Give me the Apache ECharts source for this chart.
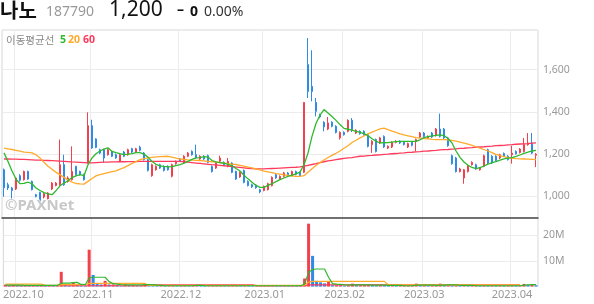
<!DOCTYPE html>
<html>
<head>
<meta charset="utf-8">
<script src="https://cdn.jsdelivr.net/npm/echarts@6/dist/echarts.min.js"></script>
<style>
html,body{margin:0;padding:0;background:#fff;}
#chart{width:594px;height:304px;}
</style>
</head>
<body>
<div id="chart"></div>
<script>
// ---- data ----
const dates = [
'2022.09.28','2022.09.29','2022.09.30',
'2022.10.04','2022.10.05','2022.10.06','2022.10.07','2022.10.11','2022.10.12','2022.10.13','2022.10.14','2022.10.17','2022.10.18','2022.10.19','2022.10.20','2022.10.21','2022.10.24','2022.10.25','2022.10.26','2022.10.27','2022.10.28','2022.10.31',
'2022.11.01','2022.11.02','2022.11.03','2022.11.04','2022.11.07','2022.11.08','2022.11.09','2022.11.10','2022.11.11','2022.11.14','2022.11.15','2022.11.16','2022.11.17','2022.11.18','2022.11.21','2022.11.22','2022.11.23','2022.11.24','2022.11.25','2022.11.28','2022.11.29','2022.11.30',
'2022.12.01','2022.12.02','2022.12.05','2022.12.06','2022.12.07','2022.12.08','2022.12.09','2022.12.12','2022.12.13','2022.12.14','2022.12.15','2022.12.16','2022.12.19','2022.12.20','2022.12.21','2022.12.22','2022.12.23','2022.12.26','2022.12.27','2022.12.28','2022.12.29',
'2023.01.02','2023.01.03','2023.01.04','2023.01.05','2023.01.06','2023.01.09','2023.01.10','2023.01.11','2023.01.12','2023.01.13','2023.01.16','2023.01.17','2023.01.18','2023.01.19','2023.01.20','2023.01.25','2023.01.26','2023.01.27','2023.01.30','2023.01.31',
'2023.02.01','2023.02.02','2023.02.03','2023.02.06','2023.02.07','2023.02.08','2023.02.09','2023.02.10','2023.02.13','2023.02.14','2023.02.15','2023.02.16','2023.02.17','2023.02.20','2023.02.21','2023.02.22','2023.02.23','2023.02.24','2023.02.27','2023.02.28',
'2023.03.02','2023.03.03','2023.03.06','2023.03.07','2023.03.08','2023.03.09','2023.03.10','2023.03.13','2023.03.14','2023.03.15','2023.03.16','2023.03.17','2023.03.20','2023.03.21','2023.03.22','2023.03.23','2023.03.24','2023.03.27','2023.03.28','2023.03.29','2023.03.30','2023.03.31',
'2023.04.03','2023.04.04','2023.04.05','2023.04.06','2023.04.07','2023.04.10','2023.04.11'
];
const opens = [1126,1055,1040,1035,1098,1079,1118,1071,1008,1019,997,988,1035,1051,1055,1150,1071,1079,1142,1118,1103,1158,1335,1272,1221,1221,1197,1210,1197,1166,1210,1197,1226,1210,1233,1205,1174,1098,1126,1150,1142,1142,1095,1155,1177,1158,1190,1213,1197,1177,1190,1193,1142,1134,1166,1161,1142,1158,1118,1092,1123,1071,1055,1054,1032,1028,1032,1051,1103,1082,1095,1111,1098,1118,1113,1114,1624,1521,1445,1387,1351,1319,1351,1332,1277,1303,1308,1360,1300,1308,1308,1292,1245,1269,1253,1284,1229,1234,1256,1261,1256,1234,1256,1261,1281,1300,1277,1300,1288,1319,1319,1277,1193,1182,1118,1087,1118,1150,1150,1126,1142,1221,1190,1190,1182,1203,1190,1197,1213,1208,1213,1245,1253,1195];
const closes = [1041,1040,1028,1087,1076,1118,1082,1032,1000,976,1013,1016,1063,1063,1150,1055,1087,1118,1103,1103,1079,1335,1229,1232,1205,1182,1221,1190,1182,1197,1190,1221,1210,1226,1218,1174,1123,1150,1142,1134,1123,1126,1150,1166,1166,1190,1205,1197,1183,1190,1177,1161,1118,1161,1182,1150,1166,1114,1082,1114,1066,1051,1045,1041,1021,1047,1060,1090,1087,1095,1111,1098,1118,1105,1098,1445,1497,1497,1403,1376,1329,1348,1332,1303,1303,1292,1360,1316,1313,1297,1292,1237,1261,1213,1277,1234,1237,1256,1261,1253,1246,1250,1242,1269,1300,1284,1284,1281,1319,1284,1277,1240,1155,1118,1130,1126,1145,1161,1130,1134,1193,1158,1158,1170,1197,1190,1174,1205,1202,1224,1245,1253,1205,1200];
const lows = [998,1030,985,1030,1070,1075,1078,1028,995,951,990,985,1030,1048,1050,1050,1065,1075,1098,1098,1075,1155,1225,1228,1200,1161,1193,1186,1178,1162,1186,1193,1205,1205,1213,1170,1118,1093,1122,1130,1118,1122,1090,1150,1162,1153,1186,1193,1178,1173,1173,1157,1113,1130,1162,1146,1138,1110,1078,1088,1062,1047,1040,1036,1015,1024,1028,1047,1083,1078,1090,1094,1094,1100,1094,1110,1466,1450,1379,1370,1308,1314,1327,1298,1269,1288,1303,1305,1295,1292,1288,1232,1206,1208,1248,1229,1224,1229,1251,1248,1241,1229,1237,1213,1276,1279,1272,1276,1283,1279,1272,1235,1150,1113,1113,1060,1113,1146,1126,1122,1138,1153,1153,1166,1177,1186,1170,1155,1198,1203,1208,1240,1200,1139];
const highs = [1132,1065,1045,1092,1105,1122,1122,1075,1012,1022,1020,1020,1068,1068,1269,1197,1095,1237,1145,1122,1108,1398,1363,1275,1226,1226,1226,1215,1203,1200,1215,1226,1230,1230,1240,1210,1178,1155,1147,1155,1147,1147,1155,1170,1182,1195,1210,1218,1245,1195,1195,1198,1147,1166,1193,1166,1182,1162,1122,1118,1127,1076,1060,1058,1036,1052,1065,1095,1108,1100,1116,1116,1122,1122,1118,1445,1750,1692,1466,1392,1356,1376,1356,1337,1308,1308,1365,1371,1318,1313,1313,1297,1266,1274,1282,1289,1242,1261,1266,1266,1261,1255,1261,1274,1305,1305,1289,1305,1324,1392,1324,1282,1198,1187,1135,1130,1150,1166,1155,1139,1198,1226,1195,1195,1202,1208,1195,1240,1218,1229,1277,1300,1300,1205];
const volumes = [0.7,0.3,0.6,0.4,0.3,0.4,0.3,0.4,0.3,0.5,0.3,0.4,0.3,0.3,5.7,0.6,0.5,1.6,0.8,0.4,0.3,14.3,4.5,1.2,0.8,2.2,0.8,0.8,0.6,0.2,0.8,0.6,0.6,0.4,0.4,0.9,0.8,0.6,0.2,0.3,0.2,0.3,0.4,0.3,0.3,0.4,0.3,0.3,0.5,0.3,0.2,0.3,0.3,0.3,0.3,0.2,0.3,0.3,0.4,0.3,0.4,0.3,0.2,0.2,0.3,0.3,0.3,0.5,0.3,0.2,0.3,0.2,0.3,0.2,0.3,3.1,24.4,11.9,2.2,1.6,1.2,1.8,0.5,0.5,0.5,0.2,0.4,1.1,0.5,0.5,0.5,0.6,0.5,0.4,0.5,0.4,0.3,0.5,0.3,0.3,0.3,0.3,0.3,1.1,0.4,0.4,0.3,0.4,0.4,1.1,0.5,0.5,0.4,0.4,0.3,0.5,0.3,0.3,0.3,0.2,0.4,0.3,0.3,0.2,0.3,0.2,0.2,0.5,0.3,0.4,1.0,0.6,0.9,0.5];
const ma5 = [1206,1165,1120,1082,1060,1062,1067,1060,1040,1028,1018,1012,1008,1027,1050,1063,1074,1089,1097,1103,1098,1150,1182,1202,1215,1224,1230,1213,1207,1202,1198,1200,1203,1207,1207,1200,1186,1165,1152,1145,1142,1140,1141,1146,1150,1157,1166,1175,1182,1184,1188,1186,1170,1163,1160,1157,1152,1145,1132,1120,1100,1083,1067,1052,1043,1043,1052,1060,1070,1079,1087,1095,1101,1107,1115,1150,1205,1284,1345,1385,1411,1395,1378,1360,1340,1322,1318,1314,1308,1303,1297,1288,1273,1262,1253,1254,1255,1257,1259,1261,1261,1261,1261,1261,1268,1278,1283,1287,1289,1291,1288,1274,1253,1215,1185,1163,1147,1137,1131,1136,1144,1153,1160,1165,1172,1178,1181,1184,1189,1196,1204,1210,1215,1218];
const ma20 = [1229,1225,1222,1218,1214,1210,1208,1206,1197,1182,1162,1143,1128,1114,1103,1090,1077,1068,1061,1059,1058,1071,1085,1097,1103,1108,1113,1117,1121,1129,1136,1146,1156,1165,1174,1179,1182,1185,1187,1188,1189,1190,1186,1181,1177,1175,1173,1172,1171,1170,1168,1166,1164,1162,1160,1158,1155,1153,1151,1147,1143,1139,1135,1130,1125,1120,1116,1112,1108,1105,1102,1100,1097,1095,1095,1098,1114,1131,1146,1160,1172,1184,1194,1204,1215,1228,1240,1255,1266,1277,1286,1296,1304,1312,1320,1323,1316,1309,1303,1296,1291,1287,1283,1278,1276,1274,1272,1270,1269,1269,1269,1268,1265,1262,1257,1252,1247,1242,1235,1228,1222,1215,1207,1199,1193,1188,1184,1181,1179,1178,1177,1176,1175,1174];
const ma60 = [1177,1177,1176,1176,1175,1175,1174,1173,1172,1172,1171,1170,1169,1168,1167,1166,1165,1163,1162,1161,1160,1159,1159,1160,1161,1162,1162,1163,1163,1164,1164,1165,1165,1165,1166,1166,1166,1166,1166,1166,1166,1166,1166,1166,1166,1164,1162,1160,1158,1156,1154,1152,1150,1149,1147,1145,1143,1141,1139,1137,1135,1133,1131,1130,1130,1130,1131,1132,1133,1134,1135,1136,1137,1138,1140,1143,1147,1151,1155,1160,1164,1168,1171,1174,1177,1180,1182,1184,1187,1190,1191,1193,1194,1196,1197,1199,1200,1202,1203,1205,1206,1208,1209,1211,1212,1214,1215,1217,1218,1220,1221,1222,1224,1225,1227,1228,1230,1231,1233,1234,1235,1237,1238,1240,1241,1242,1244,1245,1247,1248,1249,1250,1252,1253];
const volMa5 = [0.5,0.5,0.5,0.5,0.5,0.4,0.4,0.4,0.4,0.4,0.4,0.4,0.4,0.4,1.3,1.3,1.3,1.5,1.6,0.8,0.7,3.3,3.6,3.6,3.6,3.6,1.9,1.1,0.9,0.7,0.6,0.6,0.6,0.6,0.6,0.7,0.7,0.7,0.5,0.4,0.3,0.3,0.3,0.3,0.3,0.3,0.3,0.3,0.4,0.4,0.3,0.3,0.3,0.3,0.3,0.3,0.3,0.3,0.3,0.3,0.3,0.3,0.3,0.3,0.3,0.3,0.3,0.3,0.3,0.3,0.3,0.3,0.3,0.3,0.3,0.9,5.5,6.6,6.8,6.8,6.8,3.6,1.1,0.9,0.8,0.6,0.5,0.6,0.6,0.6,0.6,0.6,0.5,0.5,0.5,0.5,0.4,0.4,0.4,0.4,0.3,0.3,0.3,0.5,0.5,0.5,0.5,0.5,0.4,0.5,0.5,0.6,0.6,0.6,0.4,0.4,0.4,0.4,0.3,0.3,0.3,0.3,0.3,0.3,0.3,0.3,0.3,0.3,0.3,0.3,0.5,0.6,0.7,0.7];
const volMa20 = [0.9,0.9,0.9,0.9,0.9,0.9,0.9,0.9,0.9,0.9,0.45,0.45,0.45,0.45,0.7,0.7,0.7,0.7,0.7,0.7,0.7,1.2,1.2,1.2,1.2,1.2,1.2,1.2,1.2,1.2,1.2,1.2,1.2,1.2,1.2,1.2,0.4,0.4,0.4,0.4,0.4,0.4,0.4,0.4,0.4,0.4,0.4,0.4,0.4,0.4,0.4,0.4,0.4,0.4,0.4,0.4,0.4,0.4,0.4,0.4,0.4,0.4,0.4,0.4,0.4,0.4,0.4,0.4,0.4,0.4,0.4,0.4,0.4,0.4,0.4,0.5,1.7,2.0,2.0,2.0,2.0,2.0,2.0,2.0,2.0,2.0,2.0,2.0,2.0,2.0,2.0,2.0,2.0,2.0,2.0,2.0,0.6,0.6,0.6,0.6,0.6,0.6,0.6,0.6,0.6,0.6,0.6,0.6,0.6,0.6,0.6,0.6,0.6,0.6,0.6,0.6,0.6,0.6,0.6,0.6,0.6,0.6,0.6,0.6,0.6,0.6,0.6,0.6,0.6,0.6];
const volMa60 = [0.3,0.3,0.3,0.3,0.3,0.3,0.3,0.3,0.3,0.3,0.3,0.3,0.3,0.3,0.3,0.3,0.3,0.3,0.3,0.3,0.3,0.3,0.3,0.3,0.3,0.3,0.3,0.3,0.3,0.3,0.3,0.3,0.3,0.3,0.3,0.3,0.65,0.65,0.65,0.65,0.65,0.65,0.65,0.65,0.65,0.65,0.65,0.65,0.65,0.65,0.65,0.65,0.65,0.65,0.65,0.65,0.65,0.65,0.65,0.65,0.65,0.65,0.65,0.3,0.3,0.3,0.3,0.3,0.3,0.3,0.3,0.3,0.3,0.3,0.3,0.3,0.6,0.6,0.6,0.6,0.6,0.6,0.6,0.6,0.6,0.6,0.6,0.6,0.6,0.6,0.6,0.6,0.6,0.6,0.6,0.6,0.6,0.6,0.6,0.6,0.6,0.6,0.6,0.6,0.6,0.6,0.6,0.6,0.6,0.6,0.6,0.6,0.6,0.6,0.6,0.6,0.6,0.6,0.6,0.6,0.6,0.6,0.6,0.6,0.6,0.6,0.6,0.6,0.6,0.6];
const priceTicks = [1000, 1200, 1400, 1600];
const volTicks = [10, 20];

// ---- styles ----
const UP = '#f2404c', DOWN = '#2e8be6';
const C5 = '#2eb82e', C20 = '#ffaa2b', C60 = '#ff3a5c';
const GRID_LINE = '#ececec';
const LATIN = '"Noto Sans", sans-serif';
const KR = '"Noto Sans CJK KR", sans-serif';

const monthStart = dates.map((d, i) => i > 0 && d.slice(0, 7) !== dates[i - 1].slice(0, 7));
const isMonth = (i) => monthStart[i];

const candleData = dates.map((d, i) => [opens[i], closes[i], lows[i], highs[i]]);
const volData = volumes.map((v, i) => ({
  value: v,
  itemStyle: { color: (i === 0 || v >= volumes[i - 1]) ? UP : DOWN }
}));

const chart = echarts.init(document.getElementById('chart'), null, { renderer: 'canvas' });

const firstMonth = monthStart.indexOf(true);

chart.setOption({
  animation: false,
  backgroundColor: '#fff',
  grid: [
    { left: 2, right: 56, top: 30, height: 187.5, show: true, borderColor: '#d6d6d6', borderWidth: 1 },
    { left: 2, right: 56, top: 217.5, height: 69, show: true, borderColor: '#d6d6d6', borderWidth: 1 }
  ],
  xAxis: [
    {
      type: 'category', gridIndex: 0, data: dates, boundaryGap: true,
      axisLine: { show: true, lineStyle: { color: '#444', width: 1.5 } },
      axisTick: { show: false }, axisLabel: { show: false },
      splitLine: { show: true, interval: (i) => isMonth(i), lineStyle: { color: GRID_LINE, width: 1 } }
    },
    {
      type: 'category', gridIndex: 1, data: dates, boundaryGap: true,
      axisLine: { show: false }, axisTick: { show: false },
      axisLabel: {
        show: true, interval: (i) => isMonth(i), margin: 3,
        color: '#999', fontSize: 11, fontFamily: LATIN,
        formatter: (v) => {
          const idx = dates.indexOf(v);
          return idx === firstMonth ? '{f|' + v.slice(0, 7) + '}' : v.slice(0, 7);
        },
        rich: { f: { padding: [0, 0, 0, 12], color: '#999', fontSize: 11, fontFamily: LATIN } }
      },
      splitLine: { show: true, interval: (i) => isMonth(i), lineStyle: { color: GRID_LINE, width: 1 } }
    }
  ],
  yAxis: [
    {
      type: 'value', gridIndex: 0, position: 'right', min: 900, max: 1788, interval: 100,
      axisLine: { show: false }, axisTick: { show: false },
      axisLabel: {
        margin: 5, color: '#999', fontSize: 10.5, fontFamily: LATIN, padding: [14, 0, 0, 0],
        formatter: (v) => priceTicks.includes(v) ? v.toLocaleString('en-US') : ''
      },
      splitLine: { show: true, lineStyle: { color: ['rgba(0,0,0,0)', GRID_LINE], width: 1 } }
    },
    {
      type: 'value', gridIndex: 1, position: 'right', min: 0, max: 26.8, interval: 10,
      axisLine: { show: false }, axisTick: { show: false },
      axisLabel: {
        margin: 5, color: '#999', fontSize: 10.5, fontFamily: LATIN, padding: [3, 0, 0, 0],
        formatter: (v) => volTicks.includes(v) ? v + 'M' : ''
      },
      splitLine: { show: true, lineStyle: { color: GRID_LINE, width: 1 } }
    }
  ],
  series: [
    {
      type: 'candlestick', xAxisIndex: 0, yAxisIndex: 0, data: candleData, barWidth: 2,
      itemStyle: { color: UP, color0: DOWN, borderColor: UP, borderColor0: DOWN, borderWidth: 1 }
    },
    { type: 'line', xAxisIndex: 0, yAxisIndex: 0, data: ma60, showSymbol: false, lineStyle: { color: C60, width: 1.3 } },
    { type: 'line', xAxisIndex: 0, yAxisIndex: 0, data: ma20, showSymbol: false, lineStyle: { color: C20, width: 1.3 } },
    { type: 'line', xAxisIndex: 0, yAxisIndex: 0, data: ma5, showSymbol: false, lineStyle: { color: C5, width: 1.3 } },
    { type: 'bar', xAxisIndex: 1, yAxisIndex: 1, data: volData, barWidth: 3 },
    { type: 'line', xAxisIndex: 1, yAxisIndex: 1, data: volMa60, showSymbol: false, lineStyle: { color: C60, width: 1.2 } },
    { type: 'line', xAxisIndex: 1, yAxisIndex: 1, data: volMa20, showSymbol: false, lineStyle: { color: C20, width: 1.2 } },
    { type: 'line', xAxisIndex: 1, yAxisIndex: 1, data: volMa5, showSymbol: false, lineStyle: { color: C5, width: 1.2 } }
  ],
  graphic: [
    { type: 'text', z: 100, x: 0, y: 10, style: { text: '나노', font: 'bold 20px ' + KR, fill: '#111', align: 'left', verticalAlign: 'middle' } },
    { type: 'text', z: 100, x: 46, y: 12, style: { text: '187790', font: '14px ' + LATIN, fill: '#999', align: 'left', verticalAlign: 'middle' } },
    { type: 'text', z: 100, x: 109, y: 10, style: { text: '1,200', font: '21px ' + LATIN, fill: '#111', align: 'left', verticalAlign: 'middle' } },
    { type: 'text', z: 100, x: 177, y: 10.5, style: { text: '–', font: 'bold 14px ' + LATIN, fill: '#111', align: 'left', verticalAlign: 'middle' } },
    { type: 'text', z: 100, x: 190, y: 12, style: { text: '0', font: 'bold 14px ' + LATIN, fill: '#111', align: 'left', verticalAlign: 'middle' } },
    { type: 'text', z: 100, x: 204, y: 12, style: { text: '0.00%', font: '14px ' + LATIN, fill: '#333', align: 'left', verticalAlign: 'middle' } },
    { type: 'text', z: 100, x: 6, y: 40, style: { text: '이동평균선', font: '10.5px ' + KR, fill: '#888', align: 'left', verticalAlign: 'middle' } },
    { type: 'text', z: 100, x: 60, y: 40, style: { text: '5', font: 'bold 10.5px ' + LATIN, fill: C5, align: 'left', verticalAlign: 'middle' } },
    { type: 'text', z: 100, x: 68, y: 40, style: { text: '20', font: 'bold 10.5px ' + LATIN, fill: C20, align: 'left', verticalAlign: 'middle' } },
    { type: 'text', z: 100, x: 83, y: 40, style: { text: '60', font: 'bold 10.5px ' + LATIN, fill: C60, align: 'left', verticalAlign: 'middle' } },
    { type: 'text', z: 100, x: 5, y: 206, style: { text: '©PAXNet', font: 'bold 15px ' + LATIN, fill: '#c8c8c8', stroke: '#fff', lineWidth: 1, align: 'left', verticalAlign: 'middle' } }
  ]
});
</script>
</body>
</html>
